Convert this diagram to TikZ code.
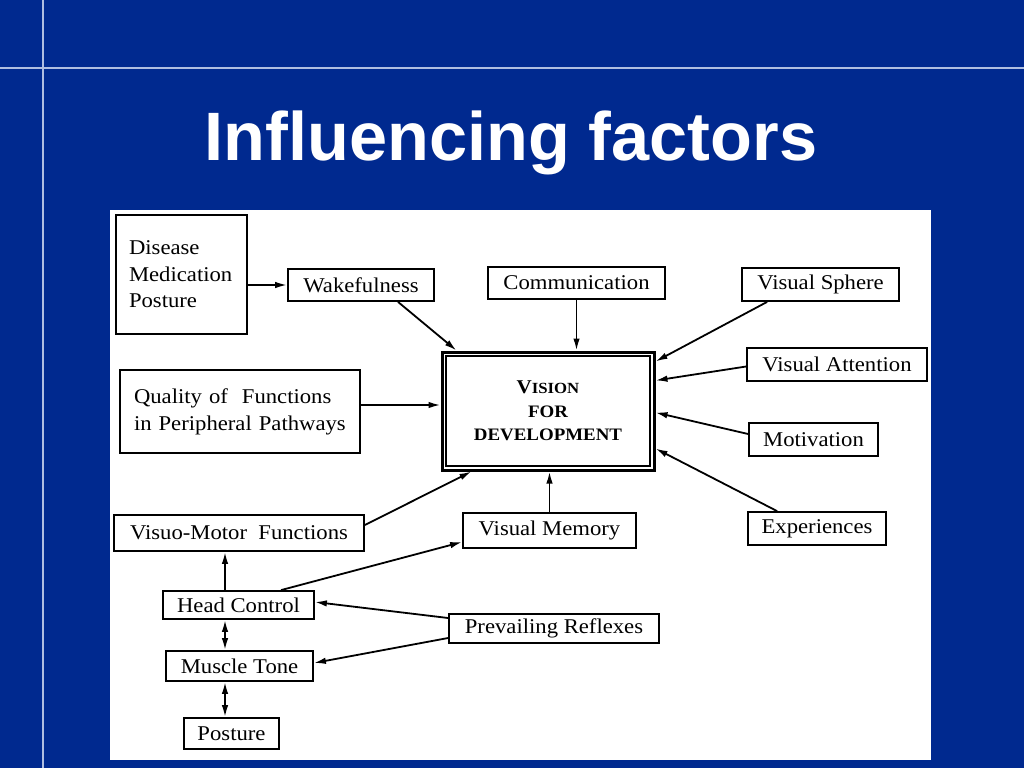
\documentclass[tikz,border=0pt]{standalone}
\usepackage{fontspec}
\newfontfamily\dfont{Liberation Serif}[FakeStretch=1.08]
\newfontfamily\tfont{Liberation Sans}
\usetikzlibrary{arrows.meta}
\definecolor{slideblue}{RGB}{0,41,143}
\definecolor{rulecol}{RGB}{175,190,225}
\begin{document}
\begin{tikzpicture}[x=1pt,y=-1pt,
 box/.style={draw=black,line width=1.8pt,inner sep=0pt,font=\dfont\fontsize{21}{26.5}\selectfont},
 arr/.style={-{Latex[length=12pt,width=6.5pt]},line width=1.8pt},
 darr/.style={{Latex[length=12pt,width=6.5pt]}-{Latex[length=12pt,width=6.5pt]},line width=1.8pt}]
\useasboundingbox (0,0) rectangle (1024,768);
\fill[slideblue] (0,0) rectangle (1024,768);
\draw[rulecol,line width=1.2pt] (43,0) -- (43,768);
\draw[rulecol,line width=1.2pt] (0,68) -- (1024,68);
\fill[white] (110,210) rectangle (931,760);
\node[anchor=base,text=white,inner sep=0pt,font=\tfont\bfseries\fontsize{68.5}{70}\selectfont] (title) at (511,160) {Influencing factors};

% boxes
\node[box,minimum width=131pt,minimum height=119pt,text width=105pt,align=left] (dmp) at (181.5,274.5) {Disease\\Medication\\Posture};
\node[box,minimum width=146pt,minimum height=32pt] (wake) at (361,285) {Wakefulness};
\node[box,minimum width=177pt,minimum height=32pt] (comm) at (576.5,283) {Communication};
\node[box,minimum width=157pt,minimum height=33pt] (vsph) at (820.5,284.5) {Visual Sphere};
\node[box,minimum width=180pt,minimum height=33pt] (vatt) at (837,364.5) {Visual Attention};
\node[box,minimum width=129pt,minimum height=33pt] (motiv) at (813.5,439.5) {Motivation};
\node[box,minimum width=138pt,minimum height=33pt] (exper) at (817,528.5) {Experiences};
\node[box,minimum width=173pt,minimum height=35pt] (vmem) at (549.5,530.5) {Visual Memory};
\node[box,minimum width=250pt,minimum height=36pt] (vmot) at (239,533) {Visuo-Motor\ \ Functions};
\node[box,minimum width=240pt,minimum height=83pt,text width=212pt,align=left,font=\dfont\fontsize{21}{27}\selectfont] (qual) at (240,411.5) {Quality of\ \ Functions\\in Peripheral Pathways};
\node[box,minimum width=151pt,minimum height=28pt] (head) at (238.5,605) {Head Control};
\node[box,minimum width=210pt,minimum height=29pt] (prev) at (554,628.5) {Prevailing Reflexes};
\node[box,minimum width=147pt,minimum height=30pt] (muscle) at (239.5,666) {Muscle Tone};
\node[box,minimum width=95pt,minimum height=31pt] (posture) at (231.5,733.5) {Posture};

% central node
\node[draw=black,line width=3pt,inner sep=0pt,minimum width=212pt,minimum height=118pt,align=center,
      font=\dfont\bfseries\fontsize{17.5}{23.5}\selectfont] (vision) at (548,411)
  {{\fontsize{19.5}{23.5}\selectfont V}{\fontsize{15.5}{23.5}\selectfont ISION}\\FOR\\DEVELOPMENT};
\draw[line width=1.8pt] ([shift={(5.5pt,-5.5pt)}]vision.north west) rectangle ([shift={(-5.5pt,5.5pt)}]vision.south east);

% connectors
\coordinate (cx) at (225,0);
\draw[arr] (dmp.east |- wake.west) -- (wake.west);
\draw[arr] ([xshift=37pt]wake.south) -- ([xshift=16pt]vision.north west);
\draw[arr] (comm.south) -- (comm.south |- vision.north);
\draw[arr] ([xshift=26pt]vsph.south west) -- ([yshift=-11pt]vision.north east);
\draw[arr] ([yshift=-2pt]vatt.west) -- ([yshift=-30pt]vision.north east);
\draw[arr] ([yshift=5.5pt]motiv.west) -- ([yshift=-1.5pt]vision.east);
\draw[arr] ([xshift=30pt]exper.north west) -- ([yshift=23pt]vision.south east);
\draw[arr] (vmem.north) -- (vmem.north |- vision.south);
\draw[arr] ([yshift=8pt]vmot.east) -- ([xshift=31pt]vision.south west);
\coordinate (qe) at ([yshift=6.5pt]qual.east);
\draw[arr] (qe) -- (qe -| vision.west);
\draw[arr] (head.north -| cx) -- (vmot.south -| cx);
\draw[arr] ([xshift=42.5pt]head.north) -- ([yshift=-11.5pt]vmem.west);
\draw[arr] ([yshift=10.5pt]prev.west) -- ([yshift=3pt]head.east);
\draw[arr] ([yshift=-9.5pt]prev.west) -- ([yshift=3pt]muscle.east);
\draw[darr] (head.south -| cx) -- (muscle.north -| cx);
\draw[darr] (muscle.south -| cx) -- (posture.north -| cx);
\end{tikzpicture}
\end{document}
